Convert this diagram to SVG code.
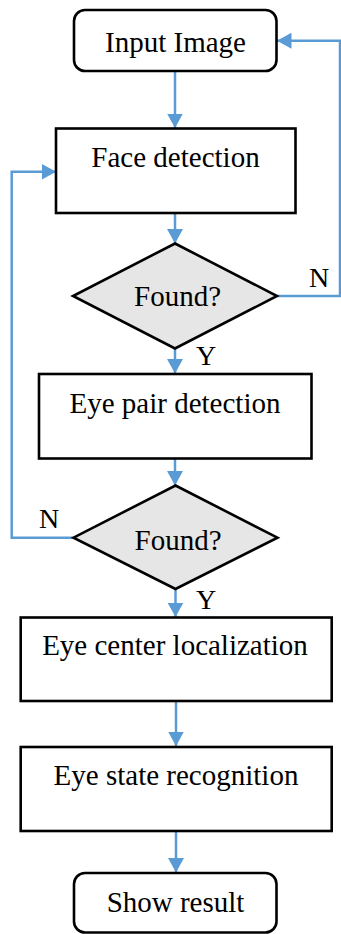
<svg xmlns="http://www.w3.org/2000/svg" width="341" height="934" viewBox="0 0 341 934">
  <style>
    .box { fill: #ffffff; stroke: #000000; stroke-width: 2.6; }
    .dec { fill: #e6e6e6; stroke: #000000; stroke-width: 2.6; stroke-linejoin: miter; }
    .lbl { font-family: "Liberation Serif", "Times New Roman", serif; font-size: 29px; fill: #000000; text-anchor: middle; }
    .yn { font-family: "Liberation Serif", "Times New Roman", serif; font-size: 28px; fill: #000000; }
    .flow { fill: none; stroke: #5b9bd5; stroke-width: 2.5; marker-end: url(#head); }
  </style>
  <defs>
    <marker id="head" markerUnits="userSpaceOnUse" markerWidth="15" markerHeight="16" refX="14.5" refY="8" orient="auto" viewBox="0 0 15 16">
      <path d="M0,0 L14.5,8 L0,16 z" fill="#5b9bd5"/>
    </marker>
  </defs>

  <rect width="341" height="934" fill="#ffffff"/>

  <g id="connectors">
    <line class="flow" x1="175" y1="71" x2="175" y2="128"/>
    <line class="flow" x1="175" y1="213" x2="175" y2="243.5"/>
    <line class="flow" x1="175" y1="348.5" x2="175" y2="373.5"/>
    <line class="flow" x1="175" y1="459" x2="175" y2="485.5"/>
    <line class="flow" x1="175.5" y1="589" x2="175.5" y2="617"/>
    <line class="flow" x1="176" y1="701.5" x2="176" y2="746"/>
    <line class="flow" x1="176" y1="831" x2="176" y2="872.5"/>
    <!-- first decision, N: back to the input -->
    <polyline class="flow" points="277,296 340,296 340,40.7 277,40.7"/>
    <!-- second decision, N: back to face detection -->
    <polyline class="flow" points="73.5,537.7 11.7,537.7 11.7,171.7 56,171.7"/>
    <text class="yn" x="309" y="287">N</text>
    <text class="yn" x="196" y="365">Y</text>
    <text class="yn" x="39" y="528">N</text>
    <text class="yn" x="196" y="609">Y</text>
  </g>

  <g id="input-image">
    <rect class="box" x="74" y="10" width="202.5" height="61" rx="11"/>
    <text class="lbl" x="175.5" y="52">Input Image</text>
  </g>

  <g id="face-detection">
    <rect class="box" x="56" y="128.5" width="239.5" height="84.5"/>
    <text class="lbl" x="175.5" y="167">Face detection</text>
  </g>

  <g id="face-found">
    <polygon class="dec" points="175,243.5 277,296 175,348.5 73,296"/>
    <text class="lbl" x="177.5" y="305.5">Found?</text>
  </g>

  <g id="eye-pair-detection">
    <rect class="box" x="39" y="374" width="272.5" height="84.5"/>
    <text class="lbl" x="175" y="413">Eye pair detection</text>
  </g>

  <g id="eye-pair-found">
    <polygon class="dec" points="175.5,485.5 277.5,537.7 175.5,589 73.5,537.7"/>
    <text class="lbl" x="178" y="550">Found?</text>
  </g>

  <g id="eye-center-localization">
    <rect class="box" x="20.7" y="617.5" width="311" height="83.5"/>
    <text class="lbl" x="175" y="655">Eye center localization</text>
  </g>

  <g id="eye-state-recognition">
    <rect class="box" x="20.7" y="747" width="311" height="84"/>
    <text class="lbl" x="176" y="785">Eye state recognition</text>
  </g>

  <g id="show-result">
    <rect class="box" x="74" y="873" width="202.5" height="59.5" rx="11"/>
    <text class="lbl" x="175.5" y="912">Show result</text>
  </g>
</svg>
